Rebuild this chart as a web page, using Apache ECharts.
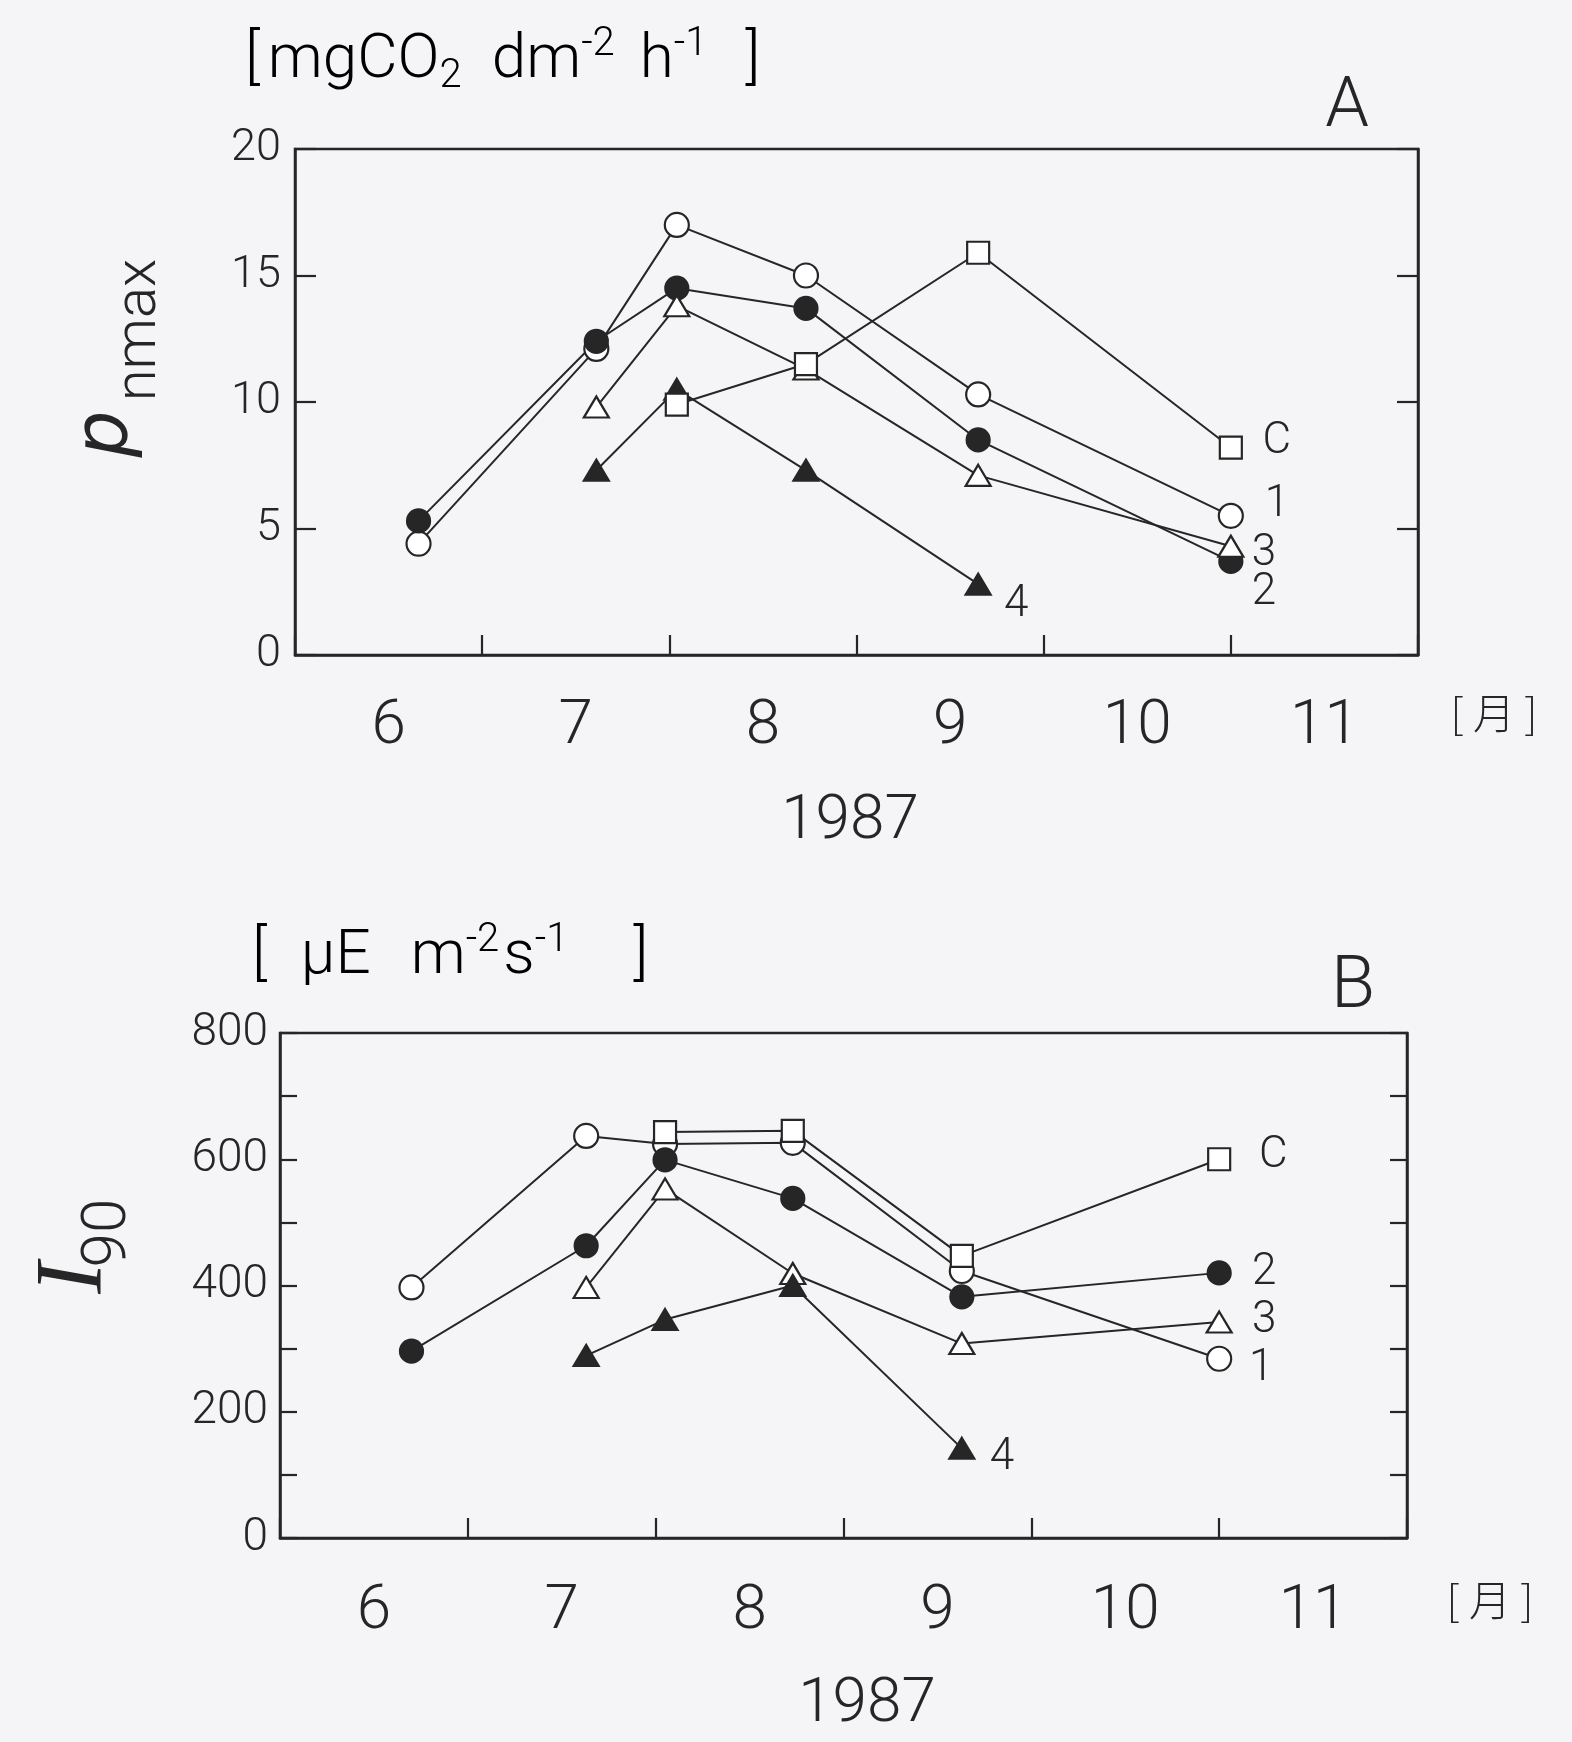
<!DOCTYPE html>
<html>
<head>
<meta charset="utf-8">
<script src="https://cdn.jsdelivr.net/npm/echarts@6/dist/echarts.min.js"></script>
<style>
html,body{margin:0;padding:0;background:#f5f4f6;}
#chart{width:1572px;height:1742px;}
</style>
</head>
<body>
<div id="chart"></div>
<script>
// ---------------- DATA ----------------
const monthLabels = ['6', '7', '8', '9', '10', '11'];
const seriesNames = ['1', '2', '3', '4', 'C'];

// Panel A: Pnmax [mgCO2 dm-2 h-1]; sampling dates as month position (tick = 1st of month)
const datesA = [6.66, 7.61, 8.04, 8.73, 9.65, 11.0];
const pA_1 = [4.4, 12.1, 17.0, 15.0, 10.3, 5.5];
const pA_2 = [5.3, 12.4, 14.5, 13.7, 8.5, 3.7];
const pA_3 = [null, 9.8, 13.8, 11.3, 7.1, 4.3];
const pA_4 = [null, 7.3, 10.5, 7.3, 2.8, null];
const pA_C = [null, null, 9.9, 11.5, 15.9, 8.2];

// Panel B: I90 [uE m-2 s-1]
const datesB = [6.70, 7.63, 8.05, 8.73, 9.63, 11.0];
const iB_1 = [397, 637, 624, 626, 423, 284];
const iB_2 = [296, 463, 599, 538, 382, 420];
const iB_3 = [null, 397, 553, 419, 308, 342];
const iB_4 = [null, 289, 346, 400, 142, null];
const iB_C = [null, null, 643, 645, 447, 600];

const yTicksA = {min: 0, max: 20, step: 5};
const yTicksB = {min: 0, max: 800, step: 100, labelStep: 200};

// ---------------- STYLE ----------------
const INK = '#262626';
const FONT = 'Roboto, "DejaVu Sans", sans-serif';
const symStyle = {
  '1': {symbol: 'circle', size: 24, fill: '#fff'},
  '2': {symbol: 'circle', size: 23, fill: INK},
  '3': {symbol: 'triangle', size: [25, 21], fill: '#fff'},
  '4': {symbol: 'triangle', size: [25, 21], fill: INK},
  'C': {symbol: 'rect', size: 22, fill: '#fff'}
};
const labelOffA = {'1': [46, -11], '2': [33, 32], '3': [33, 8], '4': [38, 21], 'C': [46, -6]};
const labelOffB = {'1': [42, 10], '2': [45, 0], '3': [45, -1], '4': [40, 10], 'C': [54, -3]};

function pairs(dates, vals) {
  const out = [];
  vals.forEach((v, i) => { if (v !== null) out.push([dates[i], v]); });
  return out;
}

function makeSeries(panel, name, dates, vals, offs) {
  const st = symStyle[name];
  const pts = pairs(dates, vals);
  const data = pts.map((p, i) => i === pts.length - 1 ? {
    value: p,
    label: {show: true, formatter: name, position: 'inside', offset: offs[name],
      color: INK, fontSize: 44, fontFamily: FONT, fontWeight: 300}
  } : p);
  return {
    type: 'line', name: name + (panel ? 'B' : 'A'),
    xAxisIndex: panel * 2 + 1, yAxisIndex: panel * 2,
    data: data,
    symbol: st.symbol, symbolSize: st.size, showAllSymbol: true,
    itemStyle: {color: st.fill, borderColor: INK, borderWidth: 2.2},
    lineStyle: {color: INK, width: 2},
    label: {show: false},
    emphasis: {disabled: true},
    silent: true,
    z: 3
  };
}

function xAxesFor(grid, margin) {
  return [
    {
      type: 'category', gridIndex: grid, data: monthLabels, boundaryGap: true,
      axisLine: {show: true, lineStyle: {color: INK, width: 2.5}},
      axisTick: {show: true, inside: true, length: 20, lineStyle: {color: INK, width: 2.2}},
      axisLabel: {margin: margin, fontSize: 62, color: INK, fontFamily: FONT, fontWeight: 300},
      splitLine: {show: false}
    },
    {type: 'value', gridIndex: grid, min: 6, max: 12, show: false}
  ];
}

function yAxesFor(grid, t, labelSize, margin, tickLen) {
  return [
    {
      type: 'value', gridIndex: grid, position: 'left', min: t.min, max: t.max, interval: t.step,
      axisLine: {show: true, lineStyle: {color: INK, width: 2.5}},
      axisTick: {show: true, inside: true, length: tickLen, lineStyle: {color: INK, width: 2.2}},
      axisLabel: {
        margin: margin, fontSize: labelSize, color: INK, fontFamily: FONT, fontWeight: 300,
        formatter: v => (t.labelStep ? (v % t.labelStep === 0 ? String(v) : '') : String(v))
      },
      splitLine: {show: false}
    },
    {
      type: 'value', gridIndex: grid, position: 'right', min: t.min, max: t.max, interval: t.step,
      axisLine: {show: true, lineStyle: {color: INK, width: 2.5}},
      axisTick: {show: true, inside: true, length: tickLen, lineStyle: {color: INK, width: 2.2}},
      axisLabel: {show: false},
      splitLine: {show: false}
    }
  ];
}

const series = [];
const aVals = {'1': pA_1, '2': pA_2, '3': pA_3, '4': pA_4, 'C': pA_C};
const bVals = {'1': iB_1, '2': iB_2, '3': iB_3, '4': iB_4, 'C': iB_C};
seriesNames.forEach(n => series.push(makeSeries(0, n, datesA, aVals[n], labelOffA)));
seriesNames.forEach(n => series.push(makeSeries(1, n, datesB, bVals[n], labelOffB)));

function txt(x, y, text, size, extra) {
  return {
    type: 'text', x: x, y: y, silent: true,
    style: Object.assign({text: text, fontSize: size, fontFamily: FONT, fontWeight: 300, fill: INK,
      align: 'center', verticalAlign: 'middle'}, extra || {})
  };
}

function main(padLeft) {
  return {fontSize: 62, lineHeight: 72, fontFamily: FONT, fontWeight: 300, color: INK,
    verticalAlign: 'middle', padding: [0, 0, 0, padLeft]};
}
const richUnits = {
  a0: main(0), a4: main(4), a8: main(8), a25: main(25), a30: main(30), a34: main(34), a40: main(40),
  a38: main(38), a65: main(65),
  sup: {fontSize: 40, lineHeight: 40, fontFamily: FONT, fontWeight: 300, color: INK, verticalAlign: 'top'},
  sub: {fontSize: 40, lineHeight: 40, fontFamily: FONT, fontWeight: 300, color: INK, verticalAlign: 'bottom'}
};

const graphics = [
  // Panel A
  {type: 'text', x: 245, y: 61, silent: true, style: {
    text: '{a0|[}{a8|mgCO}{sub|2}{a30|dm}{sup|-2}{a25|h}{sup|-1}{a38|]}', rich: richUnits,
    align: 'left', verticalAlign: 'middle'}},
  txt(1347, 108, 'A', 70),
  txt(1494, 713, '[ 月 ]', 42, {fontFamily: '"Noto Sans CJK JP", sans-serif', fontWeight: 300}),
  txt(850, 822, '1987', 62),
  {type: 'text', x: 108, y: 434, rotation: Math.PI / 2, silent: true,
    style: {text: 'p', fontSize: 74, fontStyle: 'italic', fontFamily: '"DejaVu Sans", sans-serif',
      fontWeight: 'normal', fill: INK, align: 'center', verticalAlign: 'middle'}},
  {type: 'text', x: 140, y: 330, rotation: Math.PI / 2, silent: true,
    style: {text: 'nmax', fontSize: 58, fontFamily: FONT, fontWeight: 300, fill: INK,
      align: 'center', verticalAlign: 'middle'}},
  // Panel B
  {type: 'text', x: 252, y: 957, silent: true, style: {
    text: '{a0|[}{a34|μE}{a40|m}{sup|-2}{a4|s}{sup|-1}{a65|]}', rich: richUnits,
    align: 'left', verticalAlign: 'middle'}},
  txt(1353, 989, 'B', 72),
  txt(1490, 1600, '[ 月 ]', 42, {fontFamily: '"Noto Sans CJK JP", sans-serif', fontWeight: 300}),
  txt(867, 1705, '1987', 62),
  {type: 'text', x: 76, y: 1278, rotation: Math.PI / 2, silent: true,
    style: {text: 'I', fontSize: 95, fontStyle: 'italic', fontFamily: '"Liberation Serif", serif',
      fontWeight: 'normal', fill: INK, align: 'center', verticalAlign: 'middle'}},
  {type: 'text', x: 109, y: 1233, rotation: Math.PI / 2, silent: true,
    style: {text: '90', fontSize: 62, fontFamily: FONT, fontWeight: 300, fill: INK,
      align: 'center', verticalAlign: 'middle'}}
];

const option = {
  backgroundColor: '#f5f4f6',
  animation: false,
  grid: [
    {left: 295, top: 149, width: 1123, height: 506, show: true, borderColor: INK, borderWidth: 2.5,
      backgroundColor: 'transparent'},
    {left: 280, top: 1033, width: 1127, height: 505, show: true, borderColor: INK, borderWidth: 2.5,
      backgroundColor: 'transparent'}
  ],
  xAxis: [].concat(xAxesFor(0, 41), xAxesFor(1, 43)),
  yAxis: [].concat(
    yAxesFor(0, yTicksA, 45, 14, 21),
    yAxesFor(1, yTicksB, 46, 12, 17)
  ),
  series: series,
  graphic: graphics
};

const chart = echarts.init(document.getElementById('chart'), null, {renderer: 'canvas'});
chart.setOption(option);
</script>
</body>
</html>
